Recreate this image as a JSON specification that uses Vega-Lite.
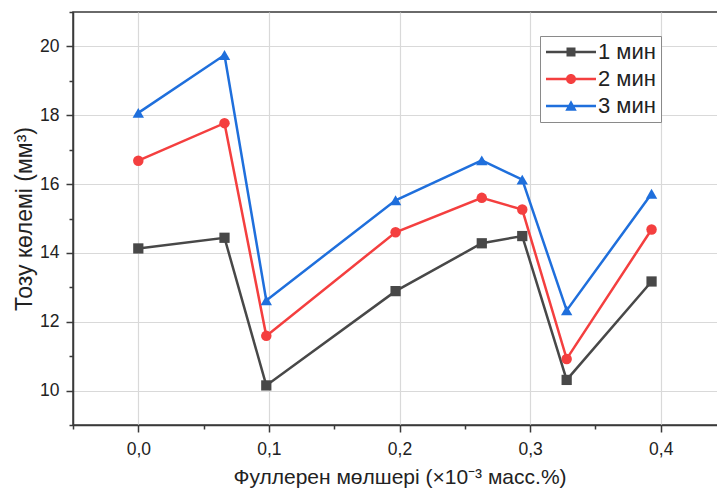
{
  "$schema": "https://vega.github.io/schema/vega-lite/v6.json",
  "width": 653,
  "height": 413,
  "autosize": "none",
  "padding": {"left": 73, "top": 12, "right": 0, "bottom": 68},
  "background": "white",
  "config": {
    "view": {"stroke": "#3a3a3a", "strokeWidth": 1.5},
    "font": "Liberation Sans"
  },
  "data": {
    "values": [
      {"x": 0.0, "y": 14.13, "series": "1 мин"},
      {"x": 0.066, "y": 14.44, "series": "1 мин"},
      {"x": 0.098, "y": 10.15, "series": "1 мин"},
      {"x": 0.197, "y": 12.89, "series": "1 мин"},
      {"x": 0.263, "y": 14.28, "series": "1 мин"},
      {"x": 0.294, "y": 14.49, "series": "1 мин"},
      {"x": 0.328, "y": 10.31, "series": "1 мин"},
      {"x": 0.393, "y": 13.17, "series": "1 мин"},
      {"x": 0.0, "y": 16.68, "series": "2 мин"},
      {"x": 0.066, "y": 17.77, "series": "2 мин"},
      {"x": 0.098, "y": 11.59, "series": "2 мин"},
      {"x": 0.197, "y": 14.6, "series": "2 мин"},
      {"x": 0.263, "y": 15.6, "series": "2 мин"},
      {"x": 0.294, "y": 15.26, "series": "2 мин"},
      {"x": 0.328, "y": 10.92, "series": "2 мин"},
      {"x": 0.393, "y": 14.68, "series": "2 мин"},
      {"x": 0.0, "y": 18.07, "series": "3 мин"},
      {"x": 0.066, "y": 19.75, "series": "3 мин"},
      {"x": 0.098, "y": 12.62, "series": "3 мин"},
      {"x": 0.197, "y": 15.53, "series": "3 мин"},
      {"x": 0.263, "y": 16.69, "series": "3 мин"},
      {"x": 0.294, "y": 16.13, "series": "3 мин"},
      {"x": 0.328, "y": 12.33, "series": "3 мин"},
      {"x": 0.393, "y": 15.72, "series": "3 мин"}
    ]
  },
  "encoding": {
    "x": {
      "field": "x",
      "type": "quantitative",
      "scale": {"domain": [-0.05, 0.45], "nice": false, "zero": false},
      "axis": {
        "title": "Фуллерен мөлшері (×10⁻³ масс.%)",
        "titleFontSize": 21,
        "titleFontWeight": "normal",
        "titleColor": "#222",
        "titlePadding": 9,
        "values": [-0.05, 0, 0.05, 0.1, 0.15, 0.2, 0.25, 0.3, 0.35, 0.4, 0.45],
        "labelExpr": "abs(round(datum.value*20)) % 2 == 0 ? replace(format(datum.value, '.1f'), '.', ',') : ''",
        "labelFontSize": 17.5,
        "labelColor": "#222",
        "labelPadding": 8,
        "labelFlush": false,
        "domainColor": "#3a3a3a",
        "domainWidth": 1.5,
        "tickColor": "#3a3a3a",
        "tickWidth": 1.5,
        "tickSize": {"condition": {"test": "abs(round(datum.value*20)) % 2 == 0", "value": 7}, "value": 4},
        "grid": true,
        "gridColor": "#d9d9d9",
        "gridWidth": 1.2,
        "gridOpacity": {"condition": {"test": "abs(round(datum.value*20)) % 2 == 0", "value": 1}, "value": 0}
      }
    },
    "y": {
      "field": "y",
      "type": "quantitative",
      "scale": {"domain": [9, 21], "nice": false, "zero": false},
      "axis": {
        "title": "Тозу көлемі (мм³)",
        "titleFontSize": 23,
        "titleFontWeight": "normal",
        "titleColor": "#222",
        "titlePadding": 3,
        "values": [9, 10, 11, 12, 13, 14, 15, 16, 17, 18, 19, 20, 21],
        "labelExpr": "datum.value % 2 == 0 && datum.value < 21 ? datum.label : ''",
        "labelFontSize": 17.5,
        "labelColor": "#222",
        "labelPadding": 7,
        "labelFlush": false,
        "domainColor": "#3a3a3a",
        "domainWidth": 1.5,
        "tickColor": "#3a3a3a",
        "tickWidth": 1.5,
        "tickSize": {"condition": {"test": "datum.value % 2 == 0", "value": 7}, "value": 4},
        "grid": true,
        "gridColor": "#d9d9d9",
        "gridWidth": 1.2,
        "gridOpacity": {"condition": {"test": "datum.value % 2 == 0 && datum.value < 21", "value": 1}, "value": 0}
      }
    },
    "color": {
      "field": "series",
      "type": "nominal",
      "scale": {"domain": ["1 мин", "2 мин", "3 мин"], "range": ["#484848", "#f43f3f", "#1f6fdc"]},
      "legend": {
        "title": null,
        "orient": "none",
        "legendX": 467,
        "legendY": 24,
        "fillColor": "white",
        "strokeColor": "#8a8a8a",
        "padding": 5,
        "labelFontSize": 22,
        "labelColor": "#222",
        "labelFont": "Liberation Sans",
        "symbolSize": 100,
        "symbolOffset": 15,
        "labelOffset": 16,
        "rowPadding": 5,
        "encode": {
          "symbols": {
            "update": {
              "shape": {"signal": "datum.value == '1 мин' ? 'M-5,-0.25H5V0.25H-5Z M-0.9,-0.9H0.9V0.9H-0.9Z' : datum.value == '2 мин' ? 'M-5,-0.25H5V0.25H-5Z M-1,0A1,1 0 1,1 1,0A1,1 0 1,1 -1,0Z' : 'M-5,-0.25H5V0.25H-5Z M0,-1.15L1.15,0.95H-1.15Z'"},
              "fill": {"signal": "scale('color', datum.value)"},
              "fillOpacity": {"value": 1},
              "strokeWidth": {"value": 0},
              "opacity": {"value": 1}
            }
          }
        }
      }
    }
  },
  "layer": [
    {
      "mark": {"type": "line", "strokeWidth": 2.5},
      "encoding": {}
    },
    {
      "transform": [{"filter": "datum.series == '1 мин'"}],
      "mark": {"type": "point", "shape": "square", "filled": true, "opacity": 1, "size": 105},
      "encoding": {}
    },
    {
      "transform": [{"filter": "datum.series == '2 мин'"}],
      "mark": {"type": "point", "shape": "circle", "filled": true, "opacity": 1, "size": 110},
      "encoding": {}
    },
    {
      "transform": [{"filter": "datum.series == '3 мин'"}],
      "mark": {"type": "point", "shape": "triangle-up", "filled": true, "opacity": 1, "size": 130},
      "encoding": {}
    }
  ]
}
